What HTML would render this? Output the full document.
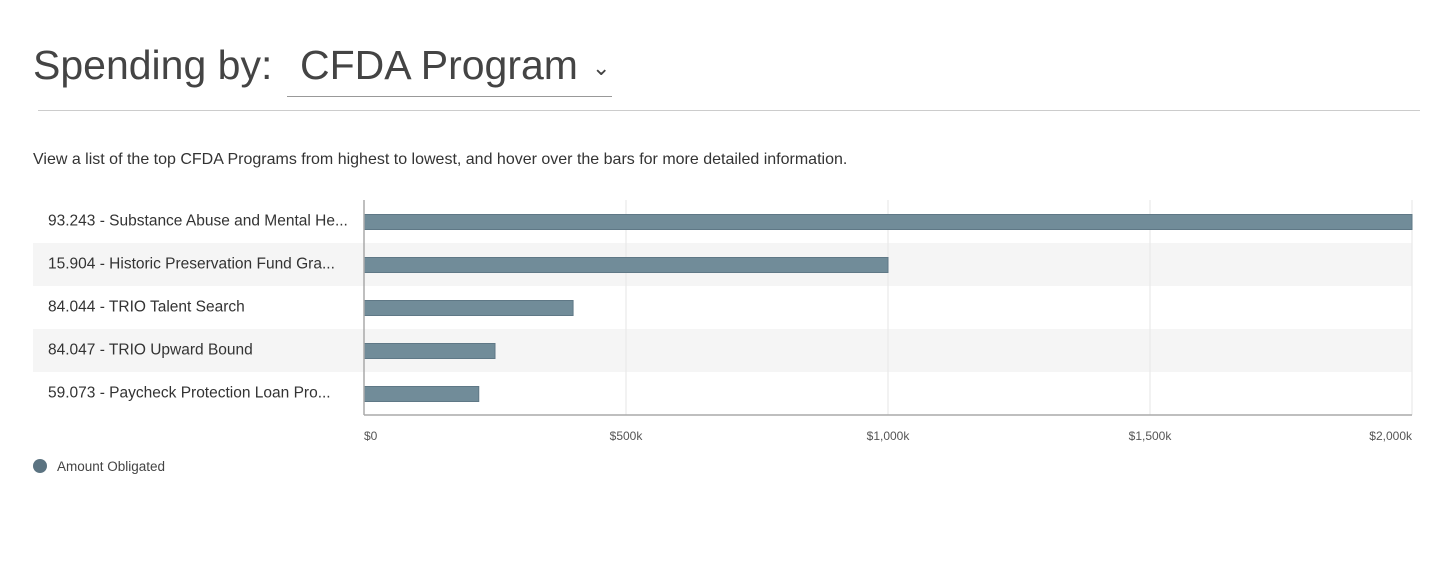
<!DOCTYPE html>
<html><head><meta charset="utf-8"><style>
body{margin:0;width:1456px;height:572px;background:#fff;font-family:"Liberation Sans",sans-serif;color:#323a45;position:relative;overflow:hidden}
.t{position:absolute;white-space:nowrap}
</style></head><body>
<div class="t" style="left:33px;top:42px;font-size:41px;color:#444">Spending by:</div>
<div class="t" style="left:287px;top:42px;width:325px;height:54px;border-bottom:1px solid #999;font-size:41px;color:#444"><span style="margin-left:13px">CFDA Program</span><span style="font-size:22px;margin-left:14px;position:relative;top:-4px">&#8964;</span></div>
<div class="t" style="left:38px;top:110px;width:1382px;height:1px;background:#ccc"></div>
<div class="t" style="left:33px;top:151px;font-size:16px;color:#333">View a list of the top CFDA Programs from highest to lowest, and hover over the bars for more detailed information.</div>
<svg id="c" width="1456" height="572" style="position:absolute;left:0;top:0"></svg>
<script>
const categories=["93.243 - Substance Abuse and Mental He...","15.904 - Historic Preservation Fund Gra...","84.044 - TRIO Talent Search","84.047 - TRIO Upward Bound","59.073 - Paycheck Protection Loan Pro..."];
const values=[2000000,1000000,399000,250000,219000];
const ticks=[0,500000,1000000,1500000,2000000];
const tickLabels=["$0","$500k","$1,000k","$1,500k","$2,000k"];
const svg=document.getElementById('c');const NS='http://www.w3.org/2000/svg';
const x0=364,x1=1412,y0=200,band=43,maxV=2000000;
const sx=v=>x0+(v/maxV)*(x1-x0);
function mk(t,a){const e=document.createElementNS(NS,t);for(const k in a)e.setAttribute(k,a[k]);svg.appendChild(e);return e;}
categories.forEach((c,i)=>{if(i%2==1){const r=mk('rect',{x:33,y:y0+i*band,width:x1-33,height:band,fill:'#f5f5f5'});

}});
ticks.forEach((t,i)=>{if(i>0){const l=mk('line',{x1:sx(t),x2:sx(t),y1:y0,y2:415,stroke:'#e6e6e6'});

}
const tx=mk('text',{x:sx(t),y:440,'text-anchor':i==ticks.length-1?'end':(i==0?'start':'middle'),'font-size':12,fill:'#555','font-family':'Liberation Sans'});


tx.textContent=tickLabels[i];});
categories.forEach((c,i)=>{const cy=y0+i*band+band/2;
const t=mk('text',{x:48,y:cy+4,'font-size':15.5,fill:'#333','font-family':'Liberation Sans'});


t.textContent=c;
const b=mk('rect',{x:x0,y:cy-7,width:sx(values[i])-x0,height:15,fill:'#718c99',stroke:'#5f7886','stroke-width':1});

});
const ax=mk('line',{x1:x0,x2:x0,y1:y0,y2:415,stroke:'#aaa','stroke-width':1.5});


const bx=mk('line',{x1:x0,x2:x1,y1:415,y2:415,stroke:'#aaa','stroke-width':1.5});


const lc=mk('circle',{cx:40,cy:466,r:7,fill:'#5b7381'});


const lt=mk('text',{x:57,y:471,'font-size':13.5,fill:'#444','font-family':'Liberation Sans'});


lt.textContent='Amount Obligated';
</script>
</body></html>
